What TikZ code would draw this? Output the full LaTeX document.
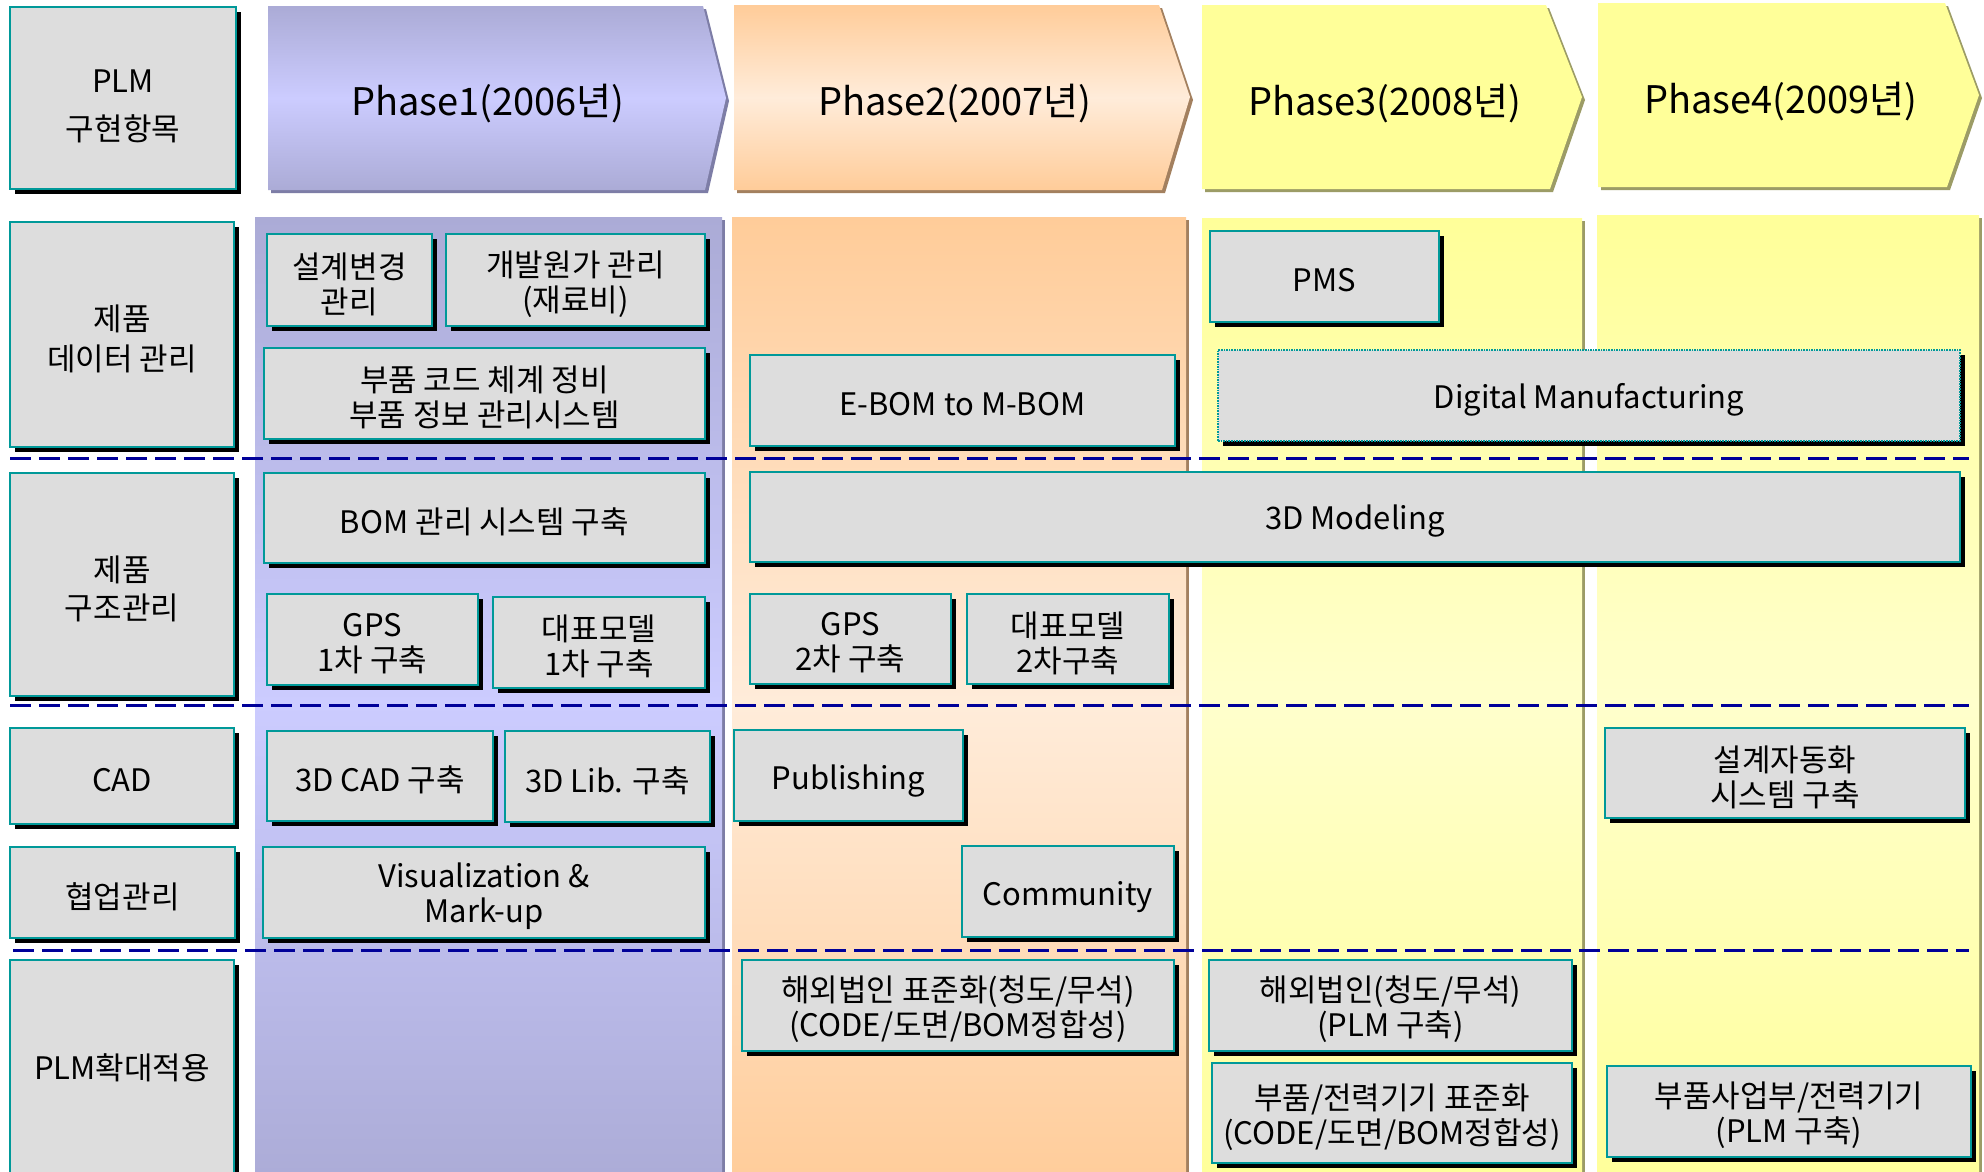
\documentclass[tikz,border=0pt]{standalone}
\usepackage{fontspec}
\setmainfont{Noto Sans CJK KR}
\usetikzlibrary{shadows}

\definecolor{boxgray}{HTML}{DDDDDD}
\definecolor{boxline}{HTML}{009999}
\definecolor{navy}{HTML}{000099}
\definecolor{lavdark}{HTML}{ABABD6}
\definecolor{lavlight}{HTML}{CCCCFF}
\definecolor{lavshadow}{HTML}{7D7DA6}
\definecolor{ordark}{HTML}{FFCC99}
\definecolor{orlight}{HTML}{FFECDA}
\definecolor{orshadow}{HTML}{A3805F}
\definecolor{yedark}{HTML}{FFFF99}
\definecolor{yelight}{HTML}{FFFFCC}
\definecolor{yeshadow}{HTML}{9C9C66}

\newcommand\bodyfont{\fontsize{31}{35}\selectfont}
\newcommand\phasefont{\fontsize{38}{44}\selectfont}

% a grey item box from its corner coordinates (left, top, right, bottom),
% with its text set slightly below the geometric centre
\newcommand\itembox[7][]{%
  \node[itembx,minimum width={(#5)-(#3)},minimum height={(#6)-(#4)}]
    (#2) at ({((#3)+(#5))/2},{((#4)+(#6))/2}) {};
  \node[itemtext,#1] (#2t) at ([yshift=-4pt]#2.center) {#7};}

% a phase column: left, top, right, edge/mid colours, shadow colour
\newcommand\phasecol[6]{%
  \fill[#6] (#1+3,#2+3) rectangle (#3+3,1190);
  \shade[top color=#4, bottom color=#4, middle color=#5] (#1,#2) rectangle (#3,1190);}

\tikzset{
  itembx/.style={draw=boxline, line width=2.5pt, fill=boxgray, inner sep=0pt,
    drop shadow={shadow xshift=4.5pt, shadow yshift=-4.5pt, fill=black, opacity=1}},
  itemtext/.style={align=center, inner sep=0pt, font=\bodyfont},
  dotbx/.style={draw=boxline, line width=1.6pt, densely dotted},
  phasetext/.style={font=\phasefont, inner sep=0pt},
  rowsep/.style={draw=navy, line width=3pt, dash pattern=on 21pt off 8pt},
}

\begin{document}
\begin{tikzpicture}[x=1pt,y=-1pt]
\useasboundingbox (0,0) rectangle (1984,1171);
\clip (0,0) rectangle (1984,1171);
\fill[white] (0,0) rectangle (1984,1171);

% ---- phase columns
\phasecol{255}{217}{722}{lavdark}{lavlight}{lavshadow}
\phasecol{732}{217}{1186}{ordark}{orlight}{orshadow}
\phasecol{1202}{218}{1582}{yedark}{yelight}{yeshadow}
\phasecol{1597}{215}{1979}{yedark}{yelight}{yeshadow}

% ---- phase headers (chevrons)
\begin{scope}[shift={(3,3)}]
  \fill[lavshadow] (268,6) -- (703,6) -- (726,98) -- (705,190) -- (268,190) -- cycle;
  \fill[orshadow] (734,5) -- (1159,5) -- (1190,97) -- (1162,190) -- (734,190) -- cycle;
  \fill[yeshadow] (1202,5) -- (1546,5) -- (1582,97) -- (1550,189) -- (1202,189) -- cycle;
  \fill[yeshadow] (1598,3) -- (1945,3) -- (1979,95) -- (1947,187) -- (1598,187) -- cycle;
\end{scope}
\shade[top color=lavdark, bottom color=lavdark, middle color=lavlight]
  (268,6) -- (703,6) -- (726,98) -- (705,190) -- (268,190) -- cycle;
\shade[top color=ordark, bottom color=ordark, middle color=orlight]
  (734,5) -- (1159,5) -- (1190,97) -- (1162,190) -- (734,190) -- cycle;
\fill[yedark] (1202,5) -- (1546,5) -- (1582,97) -- (1550,189) -- (1202,189) -- cycle;
\fill[yedark] (1598,3) -- (1945,3) -- (1979,95) -- (1947,187) -- (1598,187) -- cycle;

\node[phasetext] (ph1) at (488,104) {Phase1(2006년)};
\node[phasetext] (ph2) at (955,104) {Phase2(2007년)};
\node[phasetext] (ph3) at (1385,104) {Phase3(2008년)};
\node[phasetext] (ph4) at (1781,102) {Phase4(2009년)};

% ---- row separators
\draw[rowsep] (10,458) -- (1969,458);
\draw[rowsep] (10,705) -- (1969,705);
\draw[rowsep] (13,950) -- (1969,950);

% ---- row headers
\itembox[font=\fontsize{31}{48}\selectfont, yshift=-4pt]{h0}{10}{7}{236}{189}{PLM\\구현항목}
\itembox[font=\fontsize{31}{40}\selectfont]{h1}{10}{222}{234}{447}{제품\\데이터 관리}
\itembox[font=\fontsize{31}{38}\selectfont]{h2}{10}{473}{234}{696}{제품\\구조관리}
\itembox{h3}{10}{728}{234}{824}{CAD}
\itembox{h4}{10}{847}{235}{938}{협업관리}
\itembox[yshift=5pt]{h5}{10}{960}{234}{1178}{PLM확대적용}

% ---- Phase 1 items
\itembox{a1}{267}{234}{432}{326}{설계변경\\관리}
\itembox{a2}{446}{234}{705}{326}{개발원가 관리\\(재료비)}
\itembox{a3}{264}{348}{705}{439}{부품 코드 체계 정비\\부품 정보 관리시스템}
\itembox{a4}{264}{473}{705}{563}{BOM 관리 시스템 구축}
\itembox{a5}{267}{594}{478}{685}{GPS\\1차 구축}
\itembox{a6}{493}{597}{705}{688}{대표모델\\1차 구축}
\itembox{a7}{267}{731}{493}{821}{3D CAD 구축}
\itembox{a8}{505}{731}{710}{822}{3D Lib. 구축}
\itembox{a9}{263}{847}{705}{938}{Visualization \&\\Mark-up}

% ---- Phase 2 items
\itembox{b1}{750}{355}{1175}{446}{E-BOM to M-BOM}
\itembox{b2}{750}{472}{1960}{562}{3D Modeling}
\itembox{b3}{750}{594}{951}{684}{GPS\\2차 구축}
\itembox{b4}{967}{594}{1169}{684}{대표모델\\2차구축}
\itembox[yshift=-2pt]{b5}{734}{730}{963}{821}{Publishing}
\itembox[yshift=-2pt]{b6}{962}{846}{1174}{937}{Community}
\itembox{b7}{742}{960}{1174}{1051}{해외법인 표준화(청도/무석)\\(CODE/도면/BOM정합성)}

% ---- Phase 3 items
\itembox{c1}{1210}{231}{1439}{322}{PMS}
\node[itembx, dotbx, minimum width=742, minimum height=91] (c2) at (1589,395.5) {};
\node[itemtext] (c2t) at ([yshift=-4pt]c2.center) {Digital Manufacturing};
\itembox{c3}{1209}{960}{1572}{1051}{해외법인(청도/무석)\\(PLM 구축)}
\itembox{c4}{1212}{1063}{1572}{1163}{부품/전력기기 표준화\\(CODE/도면/BOM정합성)}

% ---- Phase 4 items
\itembox{d1}{1605}{728}{1965}{818}{설계자동화\\시스템 구축}
\itembox{d2}{1607}{1066}{1971}{1157}{부품사업부/전력기기\\(PLM 구축)}
\end{tikzpicture}
\end{document}
